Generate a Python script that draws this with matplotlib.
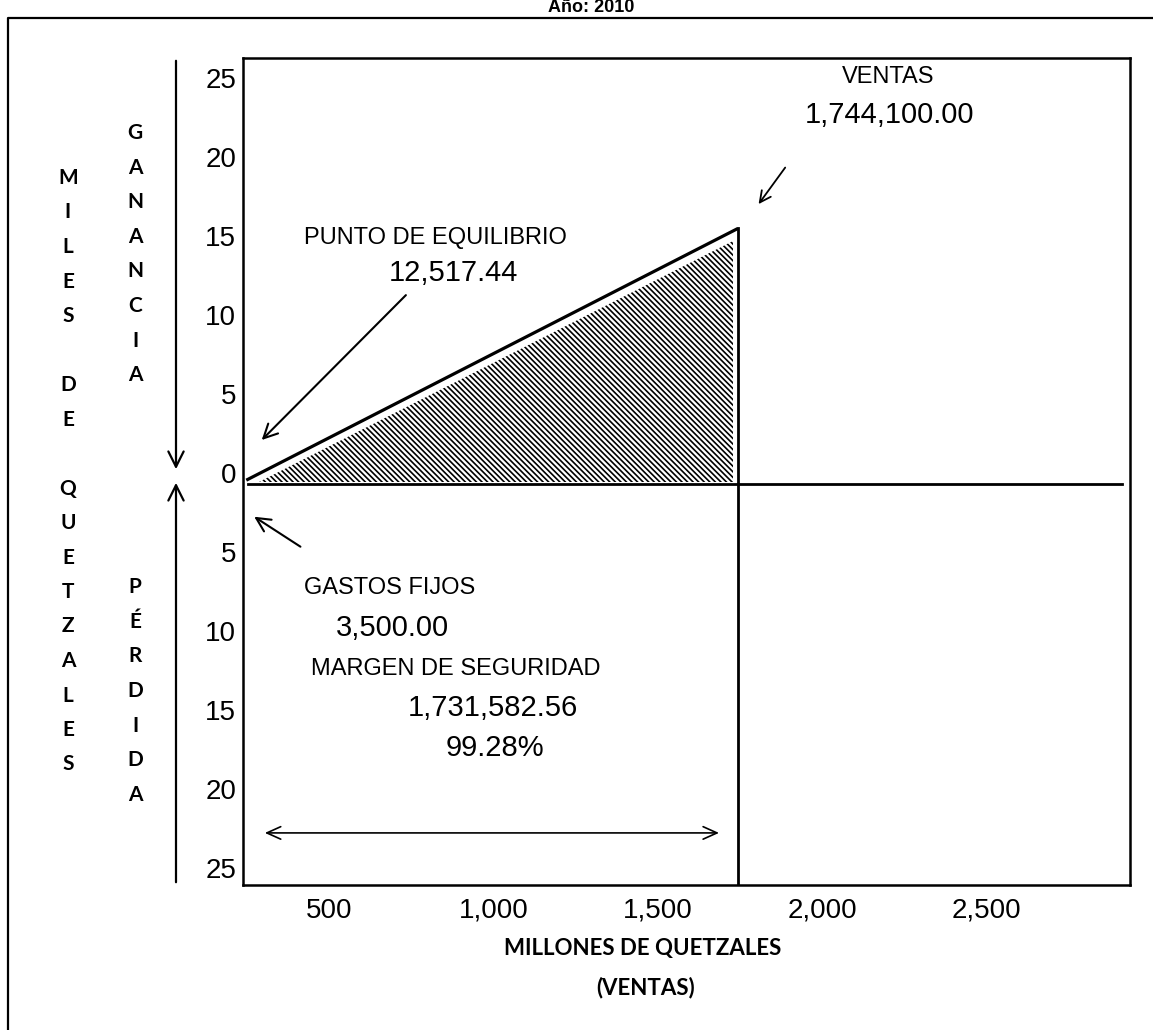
import matplotlib
matplotlib.use('Agg')
import matplotlib.pyplot as plt
import matplotlib.transforms as mtransforms
from matplotlib.lines import Line2D

plt.rcParams['hatch.linewidth'] = 1.2

# - - - data - - -
x_ticks = [500, 1000, 1500, 2000, 2500]
y_ticks = [25, 20, 15, 10, 5, 0, -5, -10, -15, -20, -25]
ventas = 1744.1            # punto de ventas en el eje x
ganancia_ventas = 16.2     # altura de la linea de ganancia en ventas
x_lim = [237, 2938]
y_lim = [-25.4, 27.0]

txt_ventas = ['VENTAS', '1,744,100.00']
txt_pe = ['PUNTO DE EQUILIBRIO', '12,517.44']
txt_gastos = ['GASTOS FIJOS', '3,500.00']
txt_margen = ['MARGEN DE SEGURIDAD', '1,731,582.56', '99.28%']
vert_miles = 'MILES DE QUETZALES'
vert_ganancia = 'GANANCIA'
vert_perdida = 'PÉRDIDA'

W, H = 1153, 1030
fig = plt.figure(figsize=(W / 100, H / 100), dpi=100)
ax = fig.add_axes([243 / W, 145 / H, 887 / W, 827 / H])

num_font = 'Liberation Sans'
bold_font = 'Lato'
lab_size = 17
num_size = 21

# pixel helpers (image coords, y down)
fx = lambda px: px / W
fy = lambda py: 1 - py / H

# outer frame
fig.add_artist(Line2D([fx(8), fx(8), 1.0], [0.0, fy(18), fy(18)],
                      transform=fig.transFigure, color='black', lw=1.6))
fig.text(fx(591), fy(8), 'Año: 2010', ha='center', va='center',
         fontsize=13, fontweight='bold', family=num_font)

# main lines
x0 = x_lim[0] + 10
ax.plot([x0, ventas], [0.25, ganancia_ventas], color='black', lw=2.3, solid_capstyle='butt')
ax.plot([ventas, ventas], [ganancia_ventas, y_lim[0]], color='black', lw=2.0)
ax.plot([x0 + 5, x_lim[1] - 25], [0, 0], color='black', lw=2.0)

# hatched profit area
ax.fill([x0 + 40, ventas - 15, ventas - 15],
        [0.15, 0.15, ganancia_ventas - 0.8],
        facecolor='none', edgecolor='black', hatch='\\' * 6, lw=0)

for s in ax.spines.values():
    s.set_linewidth(1.8)

ax.set_xlim(x_lim)
ax.set_ylim(y_lim)
ax.set_xticks(x_ticks)
ax.set_xticklabels([f'{v:,}' for v in x_ticks], family=num_font, fontsize=20)
ax.set_yticks(y_ticks)
ax.set_yticklabels([str(abs(v)) for v in y_ticks], family=num_font, fontsize=20)
ax.tick_params(axis='both', length=0)
ax.tick_params(axis='x', pad=9)
ax.tick_params(axis='y', pad=5)
offset = mtransforms.ScaledTranslation(0, 8 / 72, fig.dpi_scale_trans)
for lab in ax.get_yticklabels():
    lab.set_transform(lab.get_transform() + offset)

# annotations
ax.text(2201, 25.8, txt_ventas[0], ha='center', va='center', fontsize=lab_size, family=num_font)
ax.text(2207, 23.4, txt_ventas[1], ha='center', va='center', fontsize=num_size, family=num_font)
ax.annotate('', xy=(1802, 17.6), xytext=(1893, 20.2),
            arrowprops=dict(arrowstyle='->,head_length=0.8,head_width=0.4', lw=1.3, color='black'))

ax.text(824, 15.6, txt_pe[0], ha='center', va='center', fontsize=lab_size, family=num_font)
ax.text(879, 13.4, txt_pe[1], ha='center', va='center', fontsize=num_size, family=num_font)
ax.annotate('', xy=(288, 2.67), xytext=(739, 12.1),
            arrowprops=dict(arrowstyle='->,head_length=1.0,head_width=0.5', lw=1.5, color='black'))

ax.annotate('', xy=(264, -1.97), xytext=(419, -4.06),
            arrowprops=dict(arrowstyle='->,head_length=1.0,head_width=0.5', lw=1.5, color='black'))
ax.text(684, -6.6, txt_gastos[0], ha='center', va='center', fontsize=lab_size, family=num_font)
ax.text(693, -9.14, txt_gastos[1], ha='center', va='center', fontsize=num_size, family=num_font)

ax.text(885, -11.7, txt_margen[0], ha='center', va='center', fontsize=lab_size, family=num_font)
ax.text(998, -14.2, txt_margen[1], ha='center', va='center', fontsize=num_size, family=num_font)
ax.text(1004, -16.75, txt_margen[2], ha='center', va='center', fontsize=num_size, family=num_font)
ax.annotate('', xy=(1695, -22.1), xytext=(295, -22.1),
            arrowprops=dict(arrowstyle='<->,head_length=1.0,head_width=0.45', lw=1.2, color='black'))

# axis titles
fig.text(fx(643), fy(948), 'MILLONES DE QUETZALES', ha='center', va='center',
         fontsize=16, fontweight='bold', family=bold_font)
fig.text(fx(646), fy(988), '(VENTAS)', ha='center', va='center',
         fontsize=16, fontweight='bold', family=bold_font)

# stacked vertical labels
for i, ch in enumerate(vert_miles):
    fig.text(fx(68), fy(178 + i * 34.5), ch, ha='center', va='center',
             fontsize=15, fontweight='bold', family=bold_font)
for i, ch in enumerate(vert_ganancia):
    fig.text(fx(135), fy(133 + i * 34.6), ch, ha='center', va='center',
             fontsize=15, fontweight='bold', family=bold_font)
for i, ch in enumerate(vert_perdida):
    fig.text(fx(135), fy(587 + i * 34.7), ch, ha='center', va='center',
             fontsize=15, fontweight='bold', family=bold_font)

# left arrows (ganancia / perdida)
ax.annotate('', xy=(fx(176), fy(472)), xytext=(fx(176), fy(58)), xycoords='figure fraction',
            arrowprops=dict(arrowstyle='->,head_length=1.1,head_width=0.55', lw=1.6, color='black'))
ax.annotate('', xy=(fx(176), fy(480)), xytext=(fx(176), fy(885)), xycoords='figure fraction',
            arrowprops=dict(arrowstyle='->,head_length=1.1,head_width=0.55', lw=1.6, color='black'))

plt.savefig('out.png', dpi=100)
plt.close()
